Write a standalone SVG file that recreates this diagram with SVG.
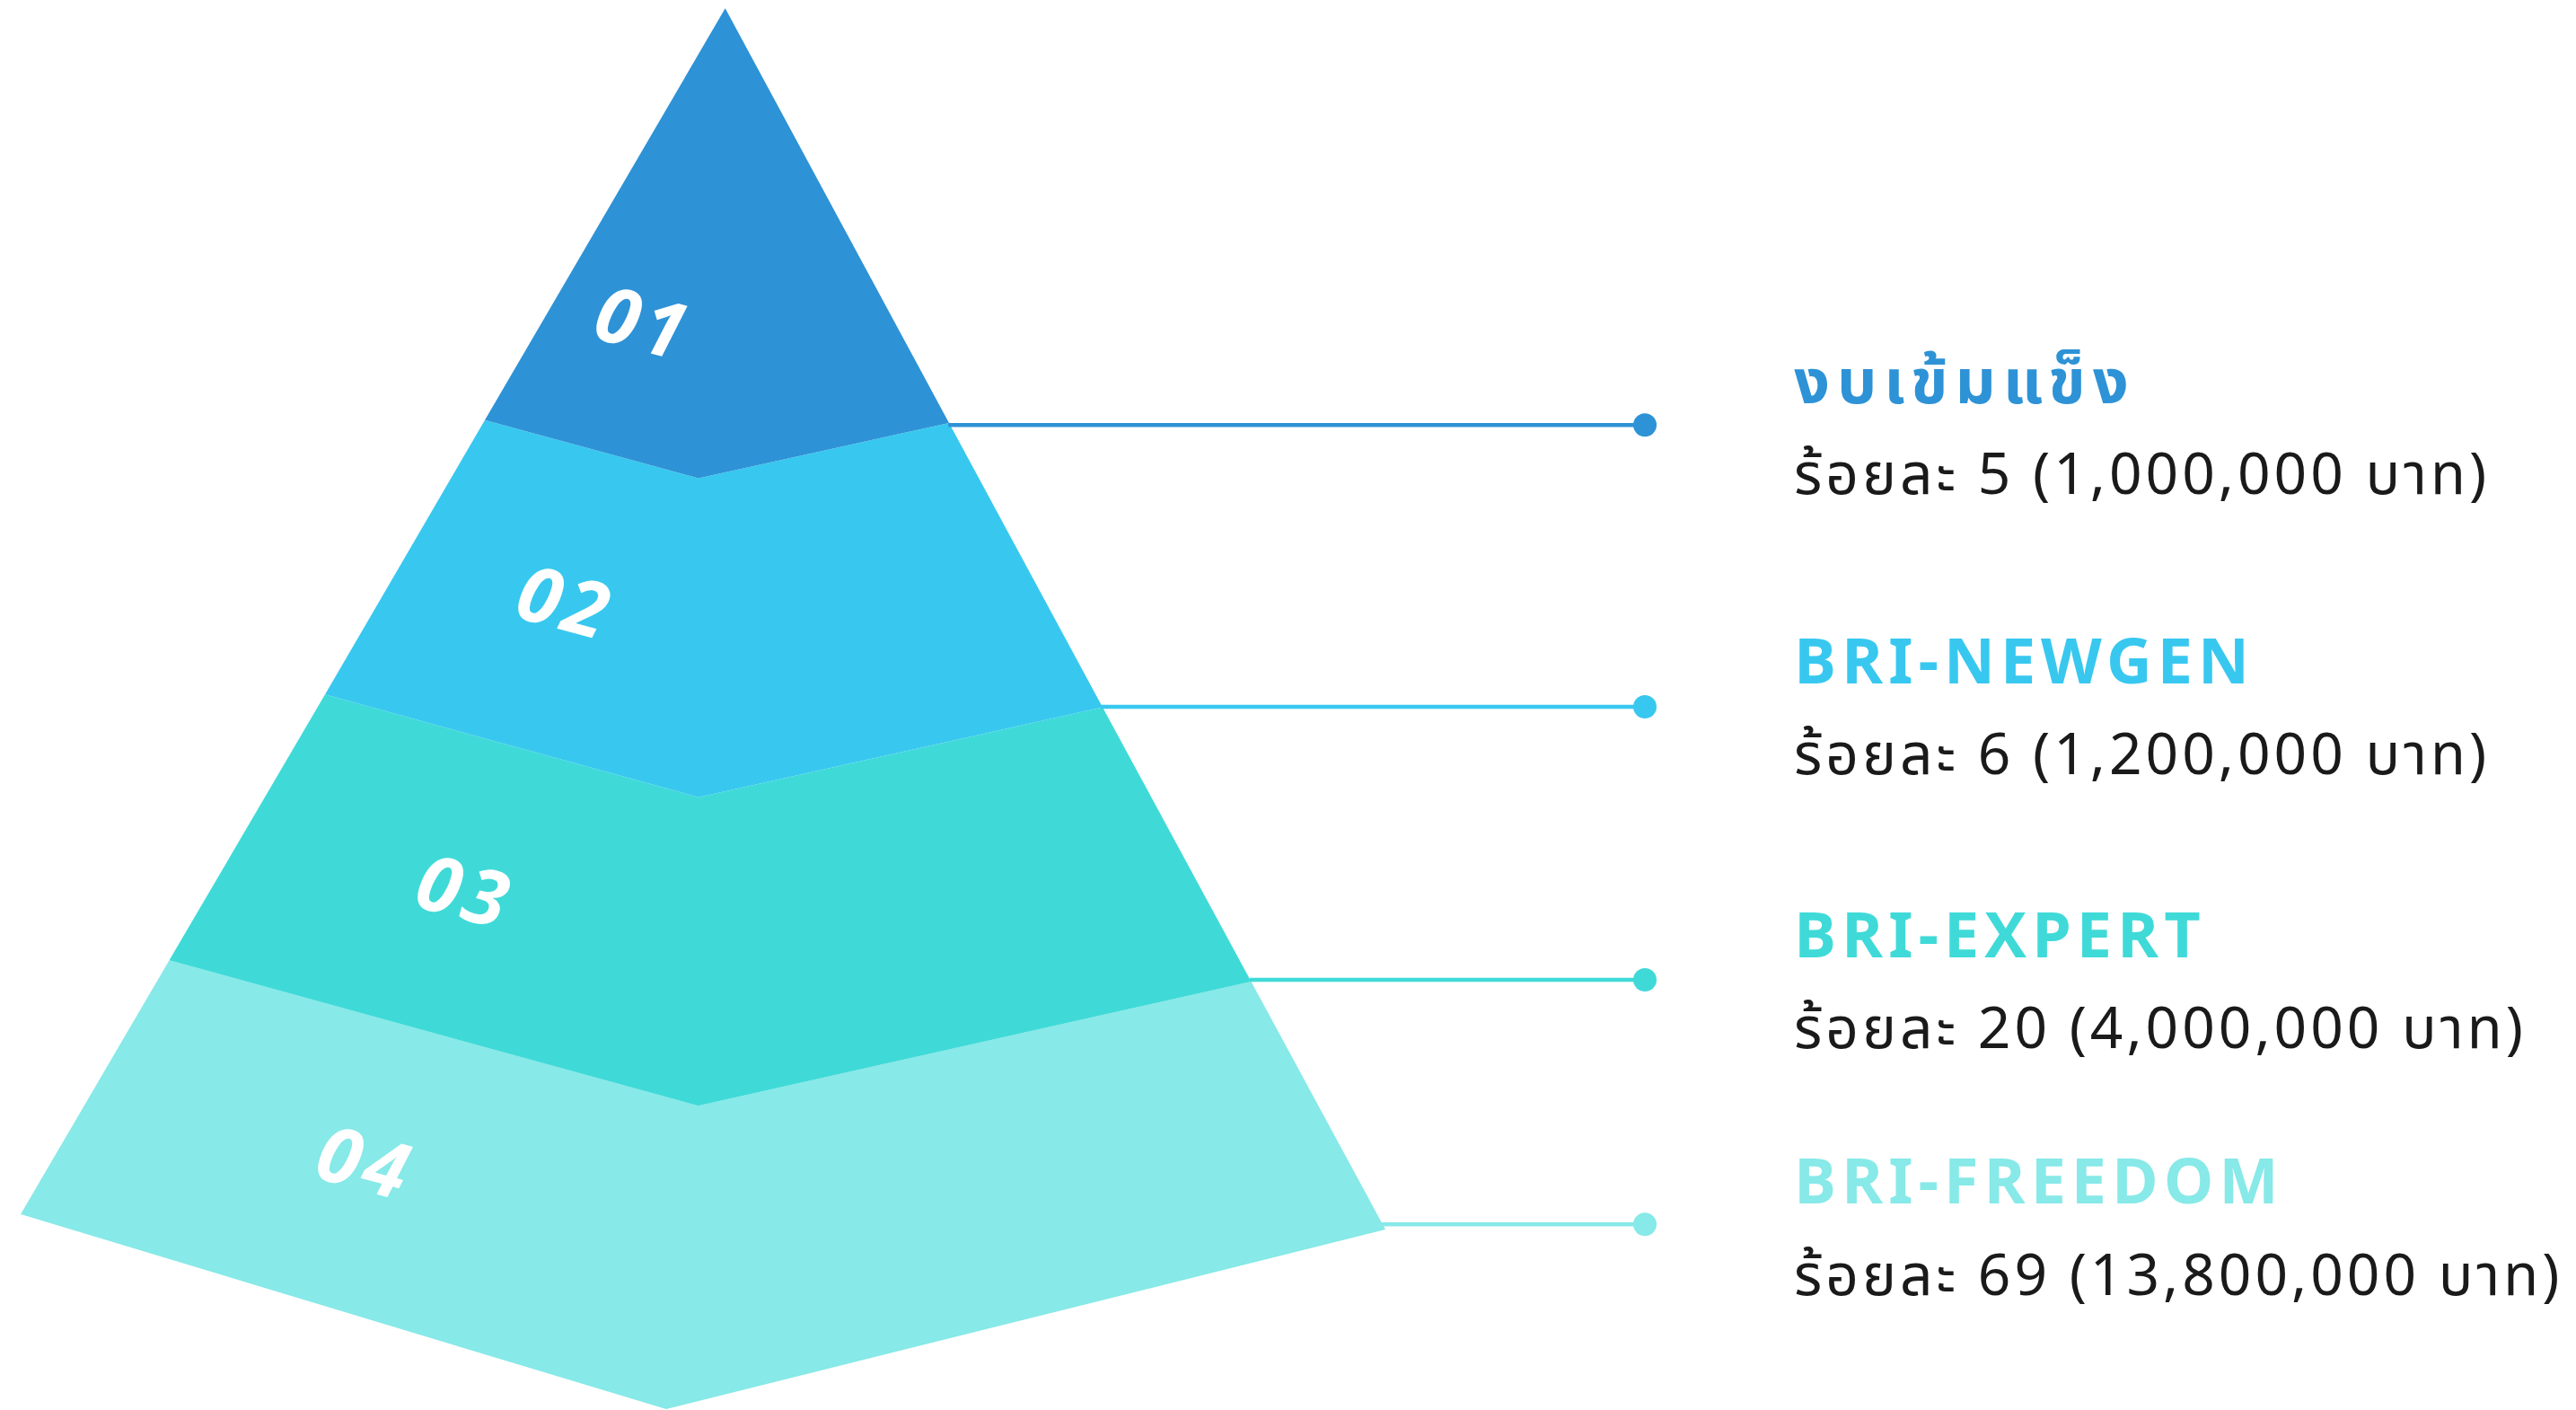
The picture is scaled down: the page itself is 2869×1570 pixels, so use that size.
<svg xmlns="http://www.w3.org/2000/svg" width="2869" height="1570" viewBox="0 0 2869 1570">
  <style>
    .num { font-family: "Open Sans", "Noto Sans", "DejaVu Sans", sans-serif; font-weight: 700; font-style: italic; font-size: 86px; fill: #ffffff; letter-spacing: 6px; }
    .title { font-family: "Noto Sans Thai", "Noto Sans", "Liberation Sans", sans-serif; font-weight: 700; font-size: 70px; letter-spacing: 6px; }
    .th { letter-spacing: 8px; }
    .sub { font-family: "Noto Sans Thai", "Noto Sans", "Liberation Sans", sans-serif; font-weight: 400; font-size: 64px; fill: #1a1a1a; letter-spacing: 4px; }
    .c1 { fill: #2e92d6; } .c2 { fill: #38c8ef; } .c3 { fill: #3fdad8; } .c4 { fill: #87e9e8; }
    .s1 { stroke: #2e92d6; } .s2 { stroke: #38c8ef; } .s3 { stroke: #3fdad8; } .s4 { stroke: #87e9e8; }
    .conn line { stroke-width: 4.5; fill: none; }
  </style>
  <rect width="2869" height="1570" fill="#ffffff"/>

  <g id="layer4">
    <polygon class="c4" points="188.5,1069.3 777.6,1231.3 1393.5,1093 1543,1369 742,1569 23,1352"/>
    <text class="num" x="408" y="1292" text-anchor="middle" dominant-baseline="central" transform="rotate(15 408 1292)">04</text>
  </g>
  <g id="layer3">
    <polygon class="c3" points="362,773.3 778,887.7 1228,787.5 1393.5,1093 777.6,1231.3 188.5,1069.3"/>
    <text class="num" x="519" y="990" text-anchor="middle" dominant-baseline="central" transform="rotate(15 519 990)">03</text>
  </g>
  <g id="layer2">
    <polygon class="c2" points="540,467.7 778,532.5 1057,471 1228,787.5 778,887.7 362,773.3"/>
    <text class="num" x="631" y="668" text-anchor="middle" dominant-baseline="central" transform="rotate(15 631 668)">02</text>
  </g>
  <g id="layer1">
    <polygon class="c1" points="807.7,9.3 1057,471 778,532.5 540,467.7"/>
    <text class="num" x="718" y="357" text-anchor="middle" dominant-baseline="central" transform="rotate(15 718 357)">01</text>
  </g>

  <g id="connectors" class="conn">
    <line class="s1" x1="1056" y1="473.3" x2="1832" y2="473.3"/>
    <circle class="c1" cx="1832" cy="473.3" r="13"/>
    <line class="s2" x1="1226" y1="787" x2="1832" y2="787"/>
    <circle class="c2" cx="1832" cy="787" r="13"/>
    <line class="s3" x1="1392" y1="1091" x2="1832" y2="1091"/>
    <circle class="c3" cx="1832" cy="1091" r="13"/>
    <line class="s4" x1="1538" y1="1363.3" x2="1832" y2="1363.3"/>
    <circle class="c4" cx="1832" cy="1363.3" r="13"/>
  </g>

  <g id="label1">
    <text class="title th c1" x="1998" y="449">งบเข้มแข็ง</text>
    <text class="sub" x="1998" y="550">ร้อยละ 5 (1,000,000 บาท)</text>
  </g>
  <g id="label2">
    <text class="title c2" x="1998" y="761">BRI-NEWGEN</text>
    <text class="sub" x="1998" y="862">ร้อยละ 6 (1,200,000 บาท)</text>
  </g>
  <g id="label3">
    <text class="title c3" x="1998" y="1066">BRI-EXPERT</text>
    <text class="sub" x="1998" y="1167">ร้อยละ 20 (4,000,000 บาท)</text>
  </g>
  <g id="label4">
    <text class="title c4" x="1998" y="1340">BRI-FREEDOM</text>
    <text class="sub" x="1998" y="1442">ร้อยละ 69 (13,800,000 บาท)</text>
  </g>
</svg>
